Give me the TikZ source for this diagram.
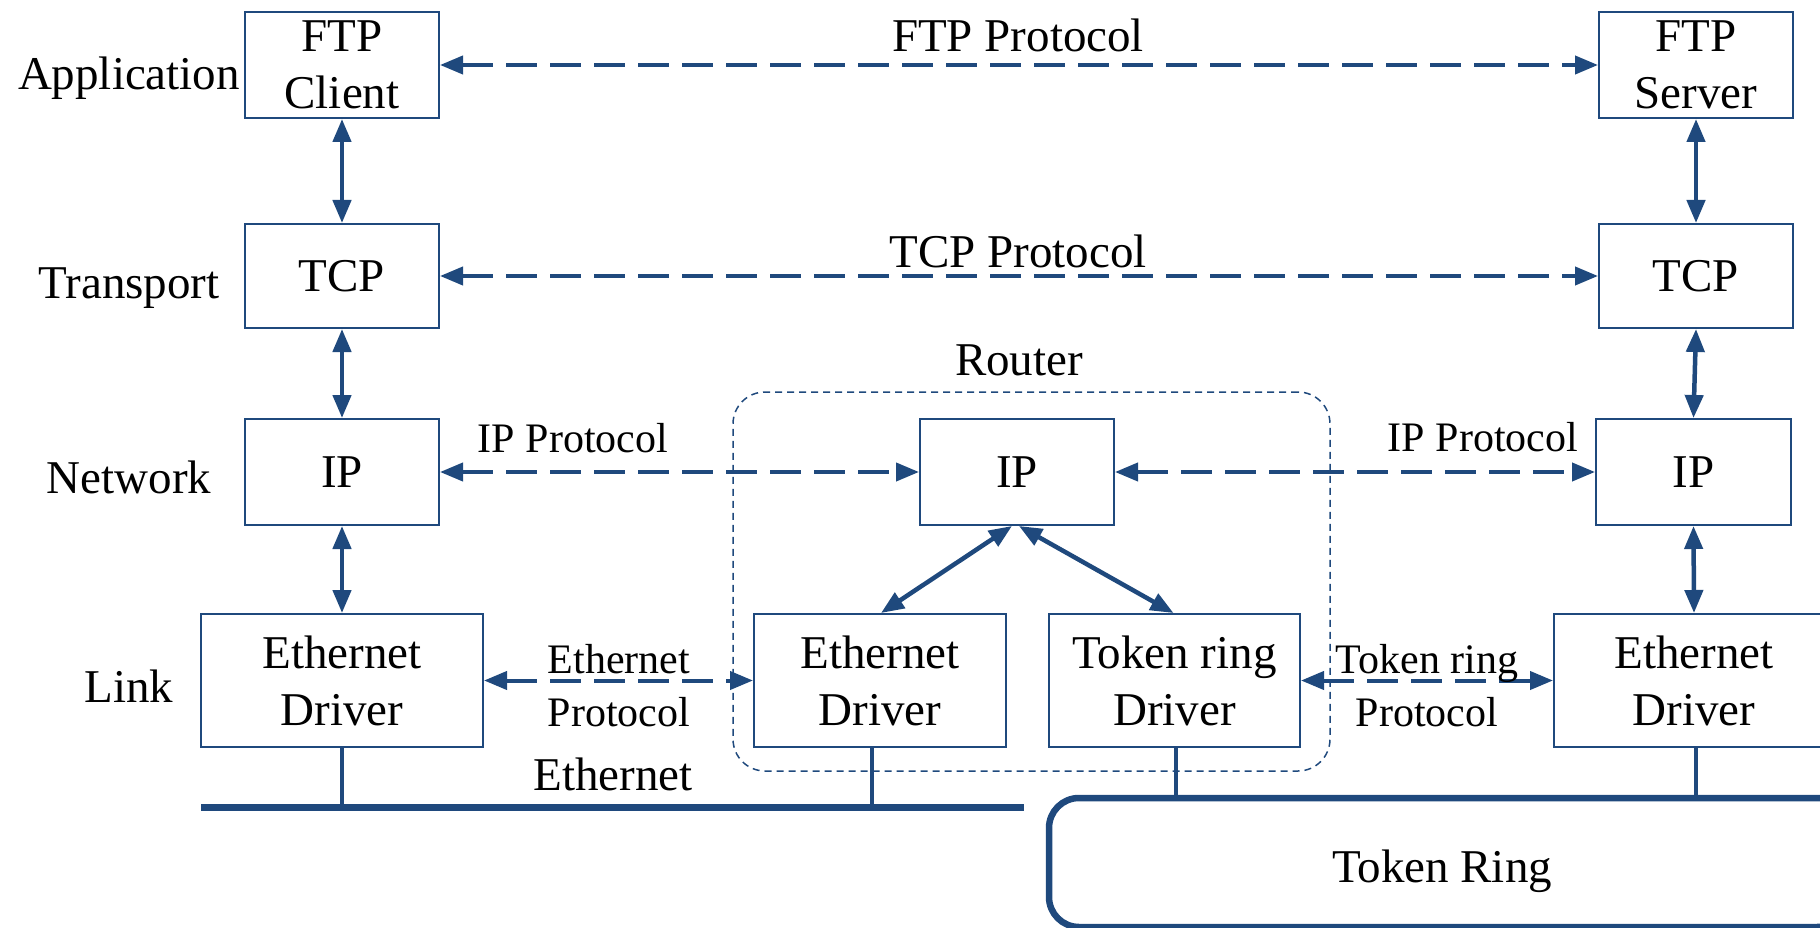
\documentclass[tikz,border=0pt]{standalone}
\usepackage{fontspec}
\setmainfont{Liberation Serif}
\usetikzlibrary{arrows.meta,calc}
\definecolor{navy}{RGB}{31,73,125}
\begin{document}
\begin{tikzpicture}[x=1pt,y=-1pt,
  every node/.style={font=\fontsize{47}{57}\selectfont, text=black},
  small/.style={font=\fontsize{42}{53}\selectfont},
  box/.style={draw=navy, line width=2pt, inner sep=0pt, align=center, fill=white},
  routerbox/.style={draw=navy, line width=1.5pt, dash pattern=on 7pt off 5pt, rounded corners=32pt, inner sep=0pt},
  varrow/.style={draw=navy, line width=4.5pt, {Triangle[length=23pt,width=18pt]}-{Triangle[length=23pt,width=18pt]}},
  darrow/.style={draw=navy, line width=4pt, dash pattern=on 31pt off 13pt, {Triangle[length=23pt,width=18pt]}-{Triangle[length=23pt,width=18pt]}},
  drop/.style={draw=navy, line width=3.5pt},
  bus/.style={draw=navy, line width=7pt},
  ringline/.style={draw=navy, line width=6.5pt, rounded corners=30pt}]
\useasboundingbox (0,0) rectangle (1820,928);
\clip (0,0) rectangle (1820,928);

% router frame
\node[routerbox, minimum width=597pt, minimum height=379pt] (router) at (1031.5,581.5) {};
\node[anchor=base] (routerlbl) at (1019,375) {Router};

% layer labels
\node[anchor=base] (lapp) at (129,90) {Application};
\node[anchor=base] (ltra) at (129,298) {Transport};
\node[anchor=base] (lnet) at (129,493) {Network};
\node[anchor=base] (llnk) at (129,702) {Link};

% boxes
\node[box, minimum width=194pt, minimum height=106pt] (ftpc) at (342,65) {FTP\\Client};
\node[box, minimum width=194pt, minimum height=106pt] (ftps) at (1696,65) {FTP\\Server};
\node[box, minimum width=194pt, minimum height=104pt] (tcpl) at (342,276) {TCP};
\node[box, minimum width=194pt, minimum height=104pt] (tcpr) at (1696,276) {TCP};
\node[box, minimum width=194pt, minimum height=106pt] (ipl) at (342,472) {IP};
\node[box, minimum width=194pt, minimum height=106pt] (ipm) at (1017,472) {IP};
\node[box, minimum width=195pt, minimum height=106pt] (ipr) at (1693.5,472) {IP};
\node[box, minimum width=282pt, minimum height=133pt] (ethl) at (342,680.5) {Ethernet\\Driver};
\node[box, minimum width=252pt, minimum height=133pt] (ethm) at (880,680.5) {Ethernet\\Driver};
\node[box, minimum width=251pt, minimum height=133pt] (trd) at (1174.5,680.5) {Token ring\\Driver};
\node[box, minimum width=280pt, minimum height=133pt] (ethr) at (1694,680.5) {Ethernet\\Driver};

% vertical arrows
\draw[varrow] (ftpc.south) -- (tcpl.north);
\draw[varrow] (tcpl.south) -- (ipl.north);
\draw[varrow] (ipl.south) -- (ethl.north);
\draw[varrow] (ftps.south) -- (tcpr.north);
\draw[varrow] (tcpr.south) -- (ipr.north);
\draw[varrow] (ipr.south) -- (ethr.north);
\draw[varrow] ([xshift=-5pt]ipm.south) -- ([xshift=1pt]ethm.north);
\draw[varrow] ([xshift=2pt]ipm.south) -- ([xshift=-1pt]trd.north);

% protocol arrows
\draw[darrow] (ftpc.east) -- (ftps.west);
\draw[darrow] (tcpl.east) -- (tcpr.west);
\draw[darrow] (ipl.east) -- (ipm.west);
\draw[darrow] (ipm.east) -- (ipr.west);
\draw[darrow] (ethl.east) -- (ethm.west);
\draw[darrow] (trd.east) -- (ethr.west);

% protocol labels
\node[anchor=base] (pftp) at (1018,52) {FTP Protocol};
\node[anchor=base] (ptcp) at (1018,267) {TCP Protocol};
\node[small, anchor=base] (pipl) at (573,452) {IP Protocol};
\node[small, anchor=base] (pipr) at (1483,451) {IP Protocol};
\node[small, align=center, inner sep=0pt] (peth) at (619,686) {Ethernet\\Protocol};
\node[small, align=center, inner sep=0pt] (ptok) at (1427,686) {Token ring\\Protocol};

% ethernet bus
\coordinate (busL) at (201,807);
\coordinate (busR) at (1024,807);
\draw[bus] (busL) -- (busR);
\coordinate (emdrop) at ([xshift=-8pt]ethm.south);
\draw[drop] (ethl.south) -- (ethl.south |- busL);
\draw[drop] (emdrop) -- (emdrop |- busL);
\node[anchor=base] (buslbl) at (613,790) {Ethernet};

% token ring
\coordinate (ringTL) at (1049,798);
\coordinate (ringBR) at (1847,927);
\draw[ringline] (ringTL) rectangle (ringBR);
\coordinate (trdrop) at ([xshift=1.5pt]trd.south);
\draw[drop] (trdrop) -- (trdrop |- ringTL);
\coordinate (erdrop) at ([xshift=2pt]ethr.south);
\draw[drop] (erdrop) -- (erdrop |- ringTL);
\node[anchor=base] (ringlbl) at (1442,882) {Token Ring};
\end{tikzpicture}
\end{document}
